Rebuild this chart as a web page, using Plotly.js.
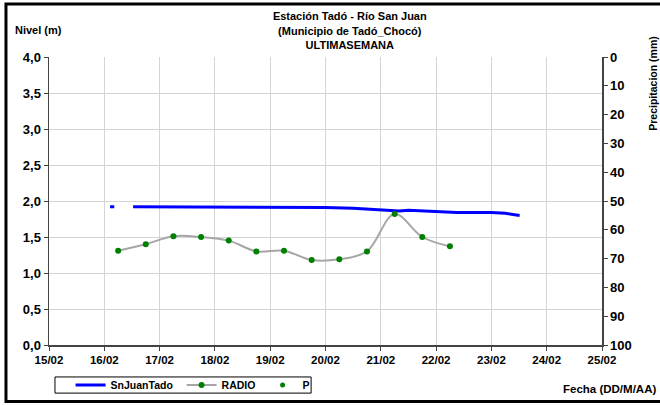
<!DOCTYPE html>
<html>
<head>
<meta charset="utf-8">
<script src="https://cdn.plot.ly/plotly-3.0.1.min.js"></script>
<style>html,body{margin:0;padding:0;background:#fff}#chart{width:660px;height:405px}</style>
</head>
<body>
<div id="chart"></div>
<script>
// SnJuanTado (level, m)
const levelTimes = ['2011-02-16 02:30','2011-02-16 04:20','2011-02-16 08:00','2011-02-16 12:30','2011-02-17 00:00','2011-02-18 00:00','2011-02-19 00:00','2011-02-19 12:00','2011-02-20 00:00','2011-02-20 12:00','2011-02-21 00:00','2011-02-21 08:00','2011-02-21 12:00','2011-02-22 00:00','2011-02-22 09:00','2011-02-23 00:00','2011-02-23 06:00','2011-02-23 12:15'];
const levelValues = [1.92,1.92,null,1.92,1.92,1.92,1.92,1.92,1.91,1.90,1.87,1.86,1.87,1.85,1.84,1.84,1.83,1.80];
// RADIO readings (m)
const radioTimes = ['2011-02-16 06:00','2011-02-16 18:00','2011-02-17 06:00','2011-02-17 18:00','2011-02-18 06:00','2011-02-18 18:00','2011-02-19 06:00','2011-02-19 18:00','2011-02-20 06:00','2011-02-20 18:00','2011-02-21 06:00','2011-02-21 18:00','2011-02-22 06:00'];
const radioValues = [1.31,1.40,1.51,1.50,1.45,1.30,1.31,1.18,1.19,1.30,1.82,1.50,1.37];
// P (precipitation, mm) - no values in this week
const precipTimes = [null];
const precipValues = [null];

const FONT = 'Liberation Sans';
const boldFont = (s) => ({family: FONT, size: s, color: '#000', weight: 700});

const traces = [
  {x: levelTimes, y: levelValues, name: 'SnJuanTado', type: 'scatter', mode: 'lines',
   line: {color: '#0000ff', width: 3}, connectgaps: false, legendwidth: 66},
  {x: radioTimes, y: radioValues, name: 'RADIO', type: 'scatter', mode: 'lines+markers',
   line: {color: '#a6a6a6', width: 2, shape: 'spline', smoothing: 1},
   marker: {color: '#008000', size: 6}, legendwidth: 36},
  {x: precipTimes, y: precipValues, name: 'P', type: 'scatter', mode: 'markers',
   marker: {color: '#008000', size: 5}, yaxis: 'y2', legendwidth: 15}
];

const axisCommon = {showline: true, linecolor: '#444', linewidth: 1.5, ticks: 'outside', ticklen: 4,
                    tickcolor: '#444', zeroline: false};

const layout = {
  width: 660, height: 405,
  margin: {l: 49, r: 58, t: 57, b: 60, autoexpand: false},
  paper_bgcolor: '#fff', plot_bgcolor: '#fff',
  separators: ',.',
  showlegend: true,
  title: {text: 'Estación Tadó - Río San Juan<br>(Municipio de Tadó_Chocó)<br>ULTIMASEMANA',
          font: boldFont(11), x: 0.53, xanchor: 'center', y: 0.95, yanchor: 'top', yref: 'container'},
  xaxis: Object.assign({}, axisCommon, {type: 'date', range: ['2011-02-15', '2011-02-25'], dtick: 86400000,
          tick0: '2011-02-15', tickformat: '%d/%m', showgrid: true, gridcolor: '#d4d4d4', gridwidth: 1,
          tickfont: boldFont(11.5)}),
  yaxis: Object.assign({}, axisCommon, {range: [0, 4], dtick: 0.5, tickformat: '.1f', showgrid: true,
          gridcolor: '#d4d4d4', tickfont: boldFont(13)}),
  yaxis2: Object.assign({}, axisCommon, {range: [100, 0], dtick: 10, overlaying: 'y', side: 'right',
          showgrid: false, tickfont: boldFont(13)}),
  legend: {orientation: 'h', x: 0.039, y: -0.139, xanchor: 'left', yanchor: 'middle',
           borderwidth: 0, font: boldFont(10.5), tracegroupgap: 0, bgcolor: 'rgba(0,0,0,0)'},
  annotations: [
    {text: 'Nivel (m)', xref: 'paper', yref: 'paper', x: -0.065, y: 1.094, xanchor: 'left', yanchor: 'middle',
     showarrow: false, font: boldFont(11)},
    {text: 'Fecha (DD/M/AA)', xref: 'paper', yref: 'paper', x: 1.101, y: -0.153, xanchor: 'right', yanchor: 'middle',
     showarrow: false, font: boldFont(11.5)},
    {text: 'Precipitacion (mm)', xref: 'paper', yref: 'paper', x: 1.092, y: 0.91, xanchor: 'center', yanchor: 'middle',
     textangle: -90, showarrow: false, font: boldFont(10.5)}
  ],
  shapes: [
    {type: 'rect', xref: 'paper', yref: 'paper', x0: -0.0778, x1: 1.13, y0: -0.196, y1: 1.184,
     line: {color: '#000', width: 3}, fillcolor: 'rgba(0,0,0,0)', layer: 'above'},
    {type: 'rect', xref: 'paper', yref: 'paper', x0: 0.0108, x1: 0.474, y0: -0.111, y1: -0.167,
     line: {color: '#000', width: 1}, fillcolor: 'rgba(0,0,0,0)', layer: 'above'}
  ]
};

Plotly.newPlot('chart', traces, layout, {displayModeBar: false, staticPlot: true});
</script>
</body>
</html>
